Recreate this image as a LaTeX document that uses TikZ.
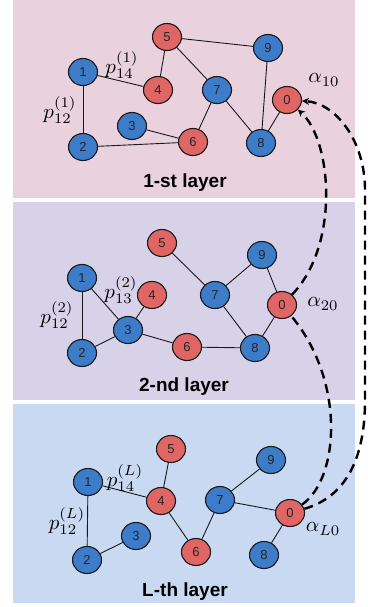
\documentclass[tikz,border=0pt]{standalone}
\usepackage{fontspec}
\setsansfont{Liberation Sans}
\usetikzlibrary{shapes.geometric,arrows.meta}
\definecolor{layerone}{RGB}{233,210,221}
\definecolor{layertwo}{RGB}{216,210,232}
\definecolor{layerL}{RGB}{201,217,242}
\definecolor{gblue}{RGB}{61,124,201}
\definecolor{gred}{RGB}{224,102,102}
\newcommand{\biglbl}[1]{\scalebox{2.1}{$#1$}}
\begin{document}
\begin{tikzpicture}[x=1pt,y=-1pt,
    vtx/.style={ellipse, draw=black!90, line width=1.1pt, minimum width=29pt, minimum height=27pt, inner sep=0pt,
      font=\sffamily\fontsize{13}{13}\selectfont, text=black!85},
    bvtx/.style={vtx, fill=gblue},
    rvtx/.style={vtx, fill=gred},
    lbl/.style={inner sep=1pt},
    ttl/.style={font=\sffamily\bfseries\fontsize{19}{19}\selectfont},
    link/.style={draw=black!90, line width=0.9pt},
    dcurve/.style={line width=2.4pt, dash pattern=on 9pt off 6pt, -{Stealth[length=7pt,width=7pt]}}]
  \useasboundingbox (0,0) rectangle (367,607);
  \fill[layerone] (13,0) rectangle (355,198);
  \fill[layertwo] (13,202) rectangle (355,400);
  \fill[layerL] (13,404) rectangle (355,603);

  \node[bvtx] (a1) at (83,72) {1};
  \node[bvtx] (a2) at (83,147) {2};
  \node[bvtx] (a3) at (132,126) {3};
  \node[rvtx] (a4) at (158,90) {4};
  \node[rvtx] (a5) at (167,37) {5};
  \node[rvtx] (a6) at (193,142) {6};
  \node[bvtx] (a7) at (217,90) {7};
  \node[bvtx] (a8) at (261,143) {8};
  \node[bvtx] (a9) at (268,48) {9};
  \node[rvtx] (a0) at (287,100) {0};

  \node[bvtx] (b1) at (82,278) {1};
  \node[bvtx] (b2) at (82,353) {2};
  \node[bvtx] (b3) at (128,330) {3};
  \node[rvtx] (b4) at (152,295) {4};
  \node[rvtx] (b5) at (162,243) {5};
  \node[rvtx] (b6) at (187,347) {6};
  \node[bvtx] (b7) at (215,295) {7};
  \node[bvtx] (b8) at (255,348) {8};
  \node[bvtx] (b9) at (262,255) {9};
  \node[rvtx] (b0) at (282,305) {0};

  \node[bvtx] (c1) at (88,482) {1};
  \node[bvtx] (c2) at (87,560) {2};
  \node[bvtx] (c3) at (136,536) {3};
  \node[rvtx] (c4) at (161,501) {4};
  \node[rvtx] (c5) at (171,449) {5};
  \node[rvtx] (c6) at (196,552) {6};
  \node[bvtx] (c7) at (220,500) {7};
  \node[bvtx] (c8) at (264,555) {8};
  \node[bvtx] (c9) at (271,460) {9};
  \node[rvtx] (c0) at (290,513) {0};

  \foreach \source/\dest in {a1/a2, a1/a4, a4/a5, a5/a9, a5/a7, a7/a6, a7/a8, a9/a8, a8/a0, a3/a6, a2/a6,
      b1/b2, b1/b3, b2/b3, b3/b4, b3/b6, b6/b8, b5/b7, b7/b9, b7/b8, b9/b0, b0/b8,
      c1/c2, c1/c4, c2/c3, c4/c5, c4/c6, c6/c7, c7/c9, c7/c0, c0/c8}
    \path[link] (\source) -- (\dest);

  \node[lbl] (p14a) at (122,65) {\biglbl{p_{14}^{(1)}}};
  \node[lbl] (p12a) at (60,110) {\biglbl{p_{12}^{(1)}}};
  \node[lbl] (al10) at (324,80) {\biglbl{\alpha_{10}}};
  \node[lbl] (p13b) at (121,290) {\biglbl{p_{13}^{(2)}}};
  \node[lbl] (p12b) at (57,315) {\biglbl{p_{12}^{(2)}}};
  \node[lbl] (al20) at (323,304) {\biglbl{\alpha_{20}}};
  \node[lbl] (p14c) at (125,478) {\biglbl{p_{14}^{(L)}}};
  \node[lbl] (p12c) at (67,521) {\biglbl{p_{12}^{(L)}}};
  \node[lbl] (alL0) at (323,529) {\biglbl{\alpha_{L0}}};

  \node[ttl] (t1) at (185,183) {1-st layer};
  \node[ttl] (t2) at (184,387) {2-nd layer};
  \node[ttl] (tL) at (185,592) {L-th layer};

  \coordinate (r1) at (365,400);
  \coordinate (r2) at (365,190);
  \draw[dcurve] (c0) .. controls (345,497) and (365,460) .. (r1) -- (r2) .. controls (365,140) and (335,103) .. (a0);
  \draw[dcurve, -] (c0) .. controls (340,478) and (345,380) .. (b0);
  \draw[dcurve] (b0) .. controls (340,245) and (332,140) .. (a0);
\end{tikzpicture}
\end{document}
